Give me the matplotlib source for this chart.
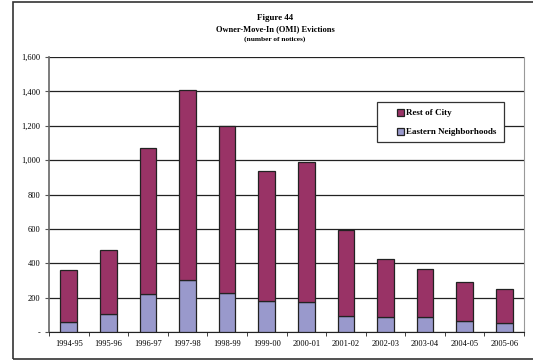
import matplotlib.pyplot as plt
import numpy as np
from matplotlib.patches import Rectangle
from matplotlib.ticker import FuncFormatter

# data
years = ['1994-95', '1995-96', '1996-97', '1997-98', '1998-99', '1999-00',
         '2000-01', '2001-02', '2002-03', '2003-04', '2004-05', '2005-06']
total = [360, 480, 1072, 1410, 1200, 935, 990, 592, 422, 366, 290, 250]
eastern = [60, 102, 223, 300, 225, 180, 172, 95, 87, 90, 65, 54]
rest = [t - e for t, e in zip(total, eastern)]

plt.rcParams['font.family'] = ['Liberation Serif', 'DejaVu Serif']

W, H = 533, 360
fig = plt.figure(figsize=(W / 100, H / 100), dpi=100)
# outer frame
fig.patches.append(Rectangle((13 / W, 1 - 359 / H), 0.99, (359 - 2) / H,
                             transform=fig.transFigure, fill=False,
                             edgecolor='#333333', linewidth=1.2))

ax = fig.add_axes([49 / W, 1 - 332 / H, (524 - 49) / W, (332 - 57) / H])

x = np.arange(len(years))
w = 0.42
b1 = ax.bar(x, eastern, w, color='#9999cc', edgecolor='#222222', linewidth=0.9,
            label='Eastern Neighborhoods', zorder=3)
b2 = ax.bar(x, rest, w, bottom=eastern, color='#993366', edgecolor='#222222',
            linewidth=0.9, label='Rest of City', zorder=3)

ax.set_xlim(-0.5, len(years) - 0.5)
ax.set_ylim(0, 1600)
ax.set_yticks(np.arange(0, 1601, 200))
ax.yaxis.set_major_formatter(FuncFormatter(lambda v, p: '-' if v == 0 else f'{int(v):,}'))
ax.grid(axis='y', color='#222222', linewidth=0.9, zorder=0)

ax.set_xticks(x)
ax.set_xticklabels(years, fontsize=6)
ax.set_xticks(np.arange(-0.5, len(years), 1), minor=True)
ax.tick_params(axis='x', which='major', length=0, pad=6)
ax.tick_params(axis='x', which='minor', length=3, direction='out', color='#222222')
ax.tick_params(axis='y', labelsize=6, length=3, color='#555555', pad=3)

ax.spines['top'].set_visible(False)
ax.spines['right'].set_color('#999999')
ax.spines['left'].set_color('#666666')
ax.spines['left'].set_linewidth(1.2)
ax.spines['bottom'].set_color('#222222')

# legend box drawn in figure pixels, entries placed inside it
fig.patches.append(Rectangle((377 / W, 1 - 142 / H), (504 - 377) / W, (142 - 102) / H,
                             transform=fig.transFigure, facecolor='white',
                             edgecolor='#333333', linewidth=0.9, zorder=5))
leg = fig.legend([b2, b1], ['Rest of City', 'Eastern Neighborhoods'],
                 loc='center left', bbox_to_anchor=(397 / W, 1 - 122.5 / H),
                 prop={'size': 6.5, 'weight': 'bold'}, frameon=False,
                 handlelength=0.8, handleheight=0.8, labelspacing=1.15,
                 borderpad=0, handletextpad=0.25, borderaxespad=0)
leg.set_zorder(6)

cx = 275 / W
fig.text(cx, 1 - 18 / H, 'Figure 44', ha='center', va='center',
         fontsize=6.5, fontweight='bold')
fig.text(cx, 1 - 29 / H, 'Owner-Move-In (OMI) Evictions', ha='center',
         va='center', fontsize=6, fontweight='bold')
fig.text(cx, 1 - 39.5 / H, '(number of notices)', ha='center', va='center',
         fontsize=5.3, fontweight='bold')

fig.savefig('out.png', dpi=100)
